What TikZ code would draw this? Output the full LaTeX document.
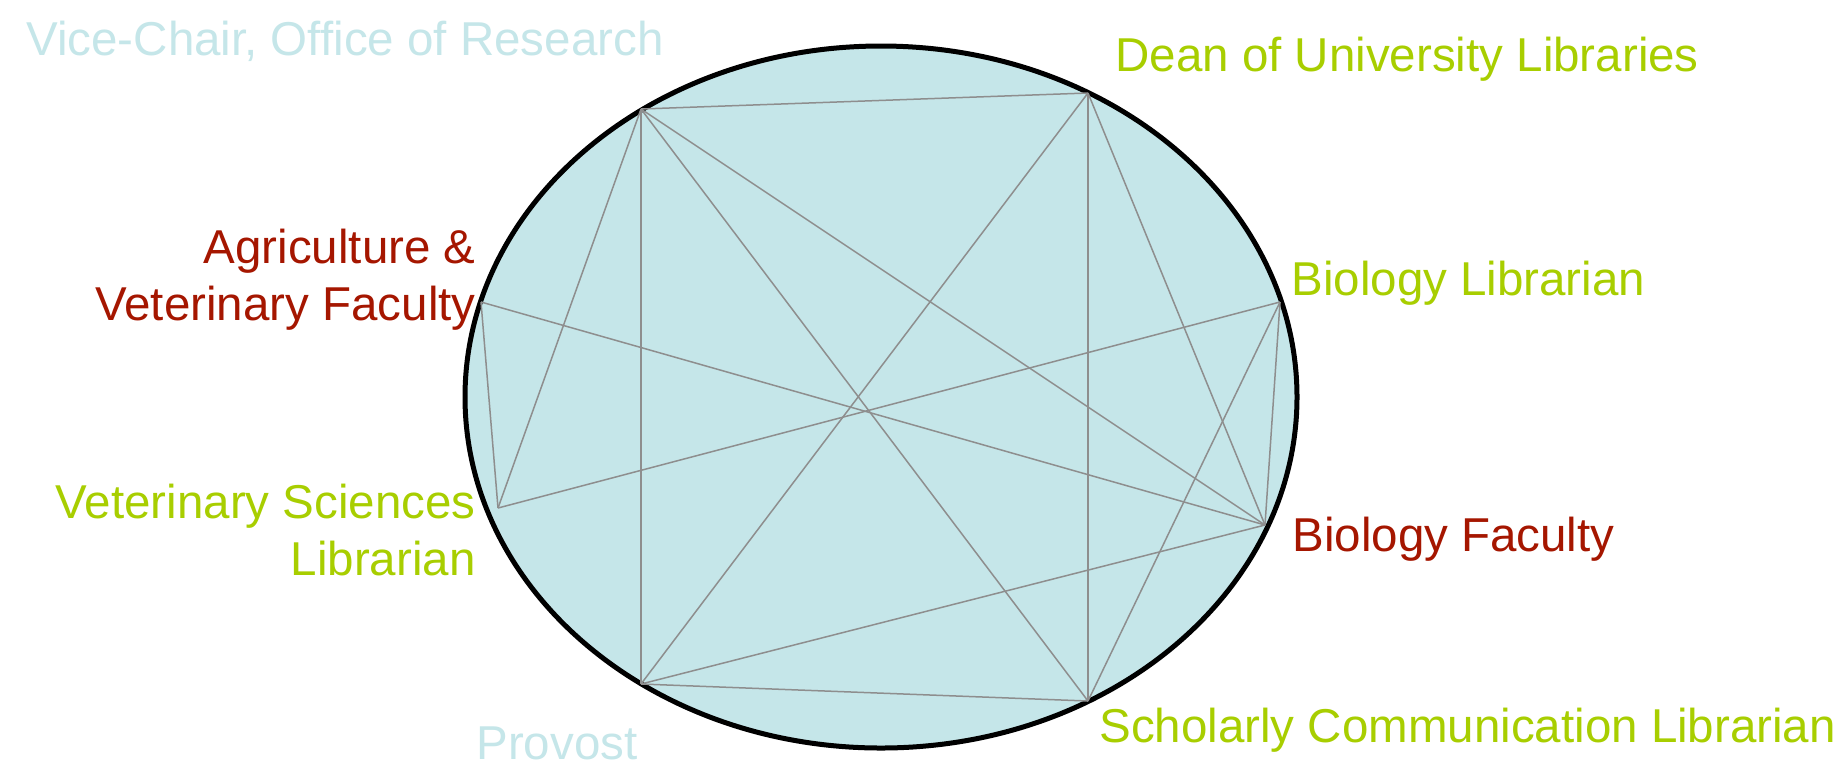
\documentclass[tikz,border=0pt]{standalone}
\usepackage{fontspec}
\setmainfont{Liberation Sans}
\definecolor{fillblue}{RGB}{197,230,233}
\definecolor{lgreen}{RGB}{168,206,0}
\definecolor{dred}{RGB}{165,22,0}
\definecolor{edgegray}{RGB}{142,142,142}
\tikzset{
  lbl/.style={inner sep=0pt, font=\fontsize{23.75pt}{28.5pt}\selectfont},
  greenlbl/.style={lbl, text=lgreen},
  redlbl/.style={lbl, text=dred},
  bluelbl/.style={lbl, text=fillblue},
  edge/.style={draw=edgegray, line width=0.75pt},
}
\begin{document}
\begin{tikzpicture}[x=0.5pt, y=-0.5pt]
\useasboundingbox (0,0) rectangle (1840,768);
\fill[white] (0,0) rectangle (1840,768);
\draw[line width=2.5pt, fill=fillblue] (881,397) ellipse [x radius=208pt, y radius=175.5pt];
% vertices
\coordinate (V) at (641,109);
\coordinate (D) at (1088,93);
\coordinate (BL) at (1280,302);
\coordinate (BF) at (1265,525);
\coordinate (S) at (1088,701);
\coordinate (P) at (641,684);
\coordinate (VS) at (498,508);
\coordinate (A) at (481,302);
% edges
\path[edge] (V) -- (D);
\path[edge] (V) -- (VS);
\path[edge] (V) -- (P);
\path[edge] (V) -- (S);
\path[edge] (V) -- (BF);
\path[edge] (D) -- (P);
\path[edge] (D) -- (S);
\path[edge] (D) -- (BF);
\path[edge] (BL) -- (VS);
\path[edge] (BL) -- (S);
\path[edge] (BL) -- (BF);
\path[edge] (A) -- (BF);
\path[edge] (A) -- (VS);
\path[edge] (BF) -- (P);
\path[edge] (P) -- (S);
% labels
\node[bluelbl, anchor=base west] (lV) at (26,55) {Vice-Chair, Office of Research};
\node[greenlbl, anchor=base west] (lD) at (1115,71) {Dean of University Libraries};
\node[redlbl, anchor=base east, align=right] (lA) at (476,320) {Agriculture \&\\Veterinary Faculty};
\node[greenlbl, anchor=base west] (lBL) at (1291,295) {Biology Librarian};
\node[redlbl, anchor=base west] (lBF) at (1292,551) {Biology Faculty};
\node[greenlbl, anchor=base east, align=right] (lVS) at (476,575) {Veterinary Sciences\\Librarian};
\node[greenlbl, anchor=base west] (lS) at (1099,742) {Scholarly Communication Librarian};
\node[bluelbl, anchor=base west] (lP) at (476,759) {Provost};
\end{tikzpicture}
\end{document}
